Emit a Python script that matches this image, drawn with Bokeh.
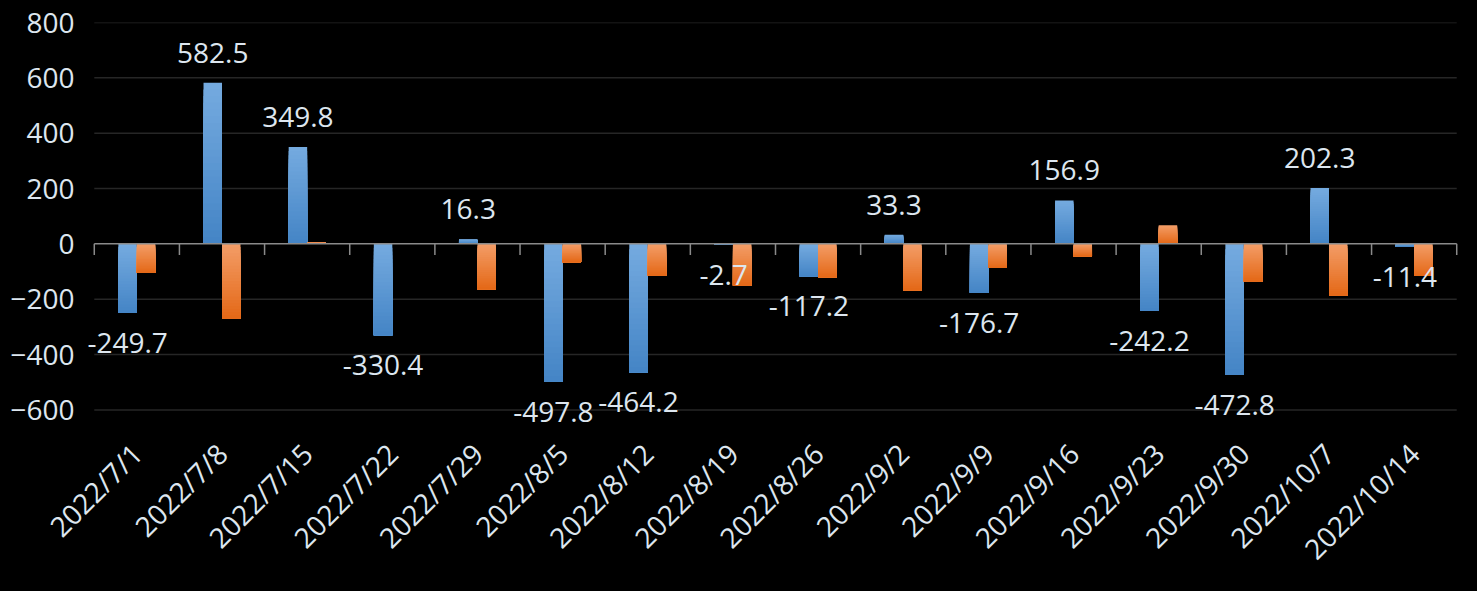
import math
from bokeh.plotting import figure
from bokeh.models import FactorRange, Range1d, ColumnDataSource, FixedTicker, LabelSet
from bokeh.transform import dodge
from bokeh.core.properties import value
from bokeh.embed import file_html
from bokeh.resources import INLINE

dates = ["2022/7/1", "2022/7/8", "2022/7/15", "2022/7/22", "2022/7/29", "2022/8/5",
         "2022/8/12", "2022/8/19", "2022/8/26", "2022/9/2", "2022/9/9", "2022/9/16",
         "2022/9/23", "2022/9/30", "2022/10/7", "2022/10/14"]
series_blue = [-249.7, 582.5, 349.8, -330.4, 16.3, -497.8, -464.2, -2.7, -117.2, 33.3,
               -176.7, 156.9, -242.2, -472.8, 202.3, -11.4]
series_orange = [-105, -270, 6, 0, -164, -66, -114, -150, -121, -168, -87, -45, 67,
                 -136, -187, -115]
y_ticks = [-600, -400, -200, 0, 200, 400, 600, 800]

FONT = "Open Sans"
TXT = "#dde6ef"
BLUE_TOP, BLUE_BOT = (0x74, 0xaa, 0xdf), (0x45, 0x85, 0xc6)
ORANGE_TOP, ORANGE_BOT = (0xf3, 0x9c, 0x66), (0xe4, 0x69, 0x18)
N = 24


def mix(c1, c2, t):
    return "#%02x%02x%02x" % tuple(round(a + (b - a) * t) for a, b in zip(c1, c2))


def gradient_source(vals, ctop, cbot):
    d, top, bot, col = [], [], [], []
    for k in range(N):
        t = k / (N - 1)
        for cat, v in zip(dates, vals):
            lo, hi = min(0, v), max(0, v)
            d.append(cat)
            bot.append(lo)
            top.append(lo + (hi - lo) * (N - k) / N)
            col.append(mix(ctop, cbot, t))
    return ColumnDataSource(dict(d=d, top=top, bot=bot, col=col))


xr = FactorRange(*dates, range_padding=0.15, range_padding_units="absolute")
p = figure(width=1477, height=591, x_range=xr,
           y_range=Range1d(-660, 800), output_backend="svg", toolbar_location=None,
           min_border_left=81, min_border_right=8, min_border_top=22, min_border_bottom=165)
p.background_fill_color = "black"
p.border_fill_color = "black"
p.outline_line_color = None
p.styles = {"background-color": "black"}

p.xgrid.grid_line_color = None
p.ygrid.grid_line_color = None
p.yaxis.ticker = FixedTicker(ticks=y_ticks)

for ax in (p.xaxis, p.yaxis):
    ax.axis_line_color = None
    ax.major_tick_line_color = None
    ax.minor_tick_line_color = None
    ax.major_tick_out = 0
    ax.major_tick_in = 0
    ax.major_label_text_color = TXT
    ax.major_label_text_font = FONT
    ax.major_label_text_font_size = "28px"
p.yaxis.major_label_standoff = 7
p.xaxis.major_label_orientation = math.pi / 4
p.xaxis.major_label_standoff = 22

n = len(dates)
# horizontal gridlines across the category area
grid_y = [t for t in y_ticks if t != 0]
p.segment(x0=[0] * len(grid_y), y0=grid_y, x1=[n] * len(grid_y), y1=grid_y,
          line_color="#262626", line_width=1.5)

w = 0.217
p.vbar(x=dodge("d", -w / 2, range=p.x_range), top="top", bottom="bot", width=w,
       source=gradient_source(series_blue, BLUE_TOP, BLUE_BOT),
       fill_color="col", line_color=None)
p.vbar(x=dodge("d", w / 2, range=p.x_range), top="top", bottom="bot", width=w,
       source=gradient_source(series_orange, ORANGE_TOP, ORANGE_BOT),
       fill_color="col", line_color=None)

# zero line and category boundary ticks
p.segment(x0=[0], y0=[0], x1=[n], y1=[0], line_color="#8a8a8a", line_width=1.5)
bounds = list(range(n + 1))
p.segment(x0=bounds, y0=[0] * len(bounds), x1=bounds, y1=[-40] * len(bounds),
          line_color="#8a8a8a", line_width=1.5)

# data labels
lsrc = ColumnDataSource(dict(
    d=dates, b=series_blue,
    lbl=[f"{v:.1f}" for v in series_blue],
    off=[30 if v >= 0 else -30 for v in series_blue],
))
labels = LabelSet(x=dodge("d", -w / 2, range=p.x_range), y="b", text="lbl", y_offset="off",
                  source=lsrc, text_align="center", text_baseline="middle",
                  text_color=TXT, text_font=value(FONT), text_font_size="28px")
p.add_layout(labels)

open("out.html", "w").write(file_html(p, INLINE))
